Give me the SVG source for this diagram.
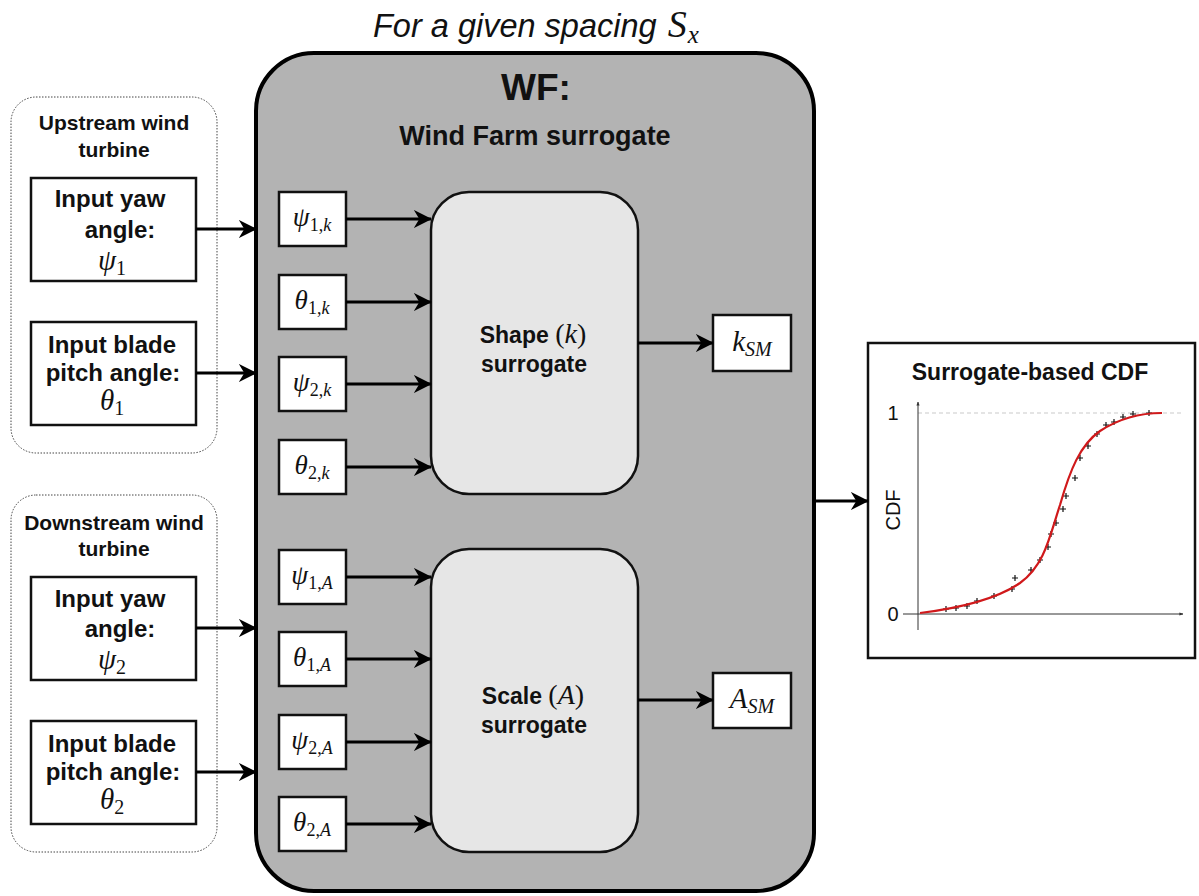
<svg xmlns="http://www.w3.org/2000/svg" width="1199" height="896" viewBox="0 0 1199 896">
  <style>
    .lbl { font-family: "Liberation Sans", Arial, sans-serif; font-weight: bold; fill: #111; }
    .math { font-family: "Liberation Serif", "DejaVu Serif", serif; font-style: italic; fill: #111; }
    .rm { font-style: normal; }
    .box { fill: #ffffff; stroke: #111; stroke-width: 2.5; }
    .group { fill: #ffffff; stroke: #444; stroke-width: 1; stroke-dasharray: 1.5 1.5; }
    .sur { fill: #e6e6e6; stroke: #111; stroke-width: 2.5; }
    .conn { stroke: #000; stroke-width: 3; fill: none; marker-end: url(#arrow); }
    .plot { font-family: "Liberation Sans", Arial, sans-serif; fill: #111; }
    .cross { stroke: #111; stroke-width: 1.2; }
  </style>
  <defs>
    <marker id="arrow" viewBox="0 0 10 10" refX="9.5" refY="5" markerWidth="6" markerHeight="6" orient="auto" markerUnits="strokeWidth">
      <path d="M0,0 L10,5 L0,10 L3,5 z" fill="#000"/>
    </marker>
    <marker id="tip" viewBox="0 0 10 10" refX="9" refY="5" markerWidth="4" markerHeight="4" orient="auto" markerUnits="strokeWidth">
      <path d="M0,1 L10,5 L0,9 z" fill="#333"/>
    </marker>
  </defs>

  <rect width="1199" height="896" fill="#ffffff"/>

  <!-- heading above the farm block -->
  <text x="373" y="37" style="font-family: 'Liberation Sans', Arial, sans-serif; font-style: italic; font-size: 32.5px; fill: #111;">For a given spacing <tspan class="math" font-size="38" dx="2">S</tspan><tspan class="math" font-size="25" dy="6" dx="1">x</tspan></text>

  <!-- wind farm surrogate block -->
  <g id="wf">
    <rect x="256" y="53" width="558" height="838" rx="58" ry="58" fill="#b3b3b3" stroke="#000" stroke-width="4"/>
    <text class="lbl" x="536" y="100" font-size="37" text-anchor="middle">WF:</text>
    <text class="lbl" x="535" y="145" font-size="27" text-anchor="middle">Wind Farm surrogate</text>
  </g>

  <!-- upstream turbine inputs -->
  <g id="upstream">
    <rect class="group" x="11" y="97" width="206" height="356" rx="25" ry="25"/>
    <text class="lbl" x="114" y="130" font-size="21" text-anchor="middle">Upstream wind</text>
    <text class="lbl" x="114" y="157" font-size="21" text-anchor="middle">turbine</text>
  </g>
  <g id="yaw1">
    <rect class="box" x="31" y="178" width="165" height="103"/>
    <text class="lbl" x="110" y="207" font-size="24" text-anchor="middle">Input yaw</text>
    <text class="lbl" x="120" y="238" font-size="24" text-anchor="middle">angle:</text>
    <text class="math" x="112" y="270" font-size="29" text-anchor="middle">ψ<tspan class="rm" font-size="20" dy="5">1</tspan></text>
  </g>
  <g id="pitch1">
    <rect class="box" x="31" y="322" width="165" height="103"/>
    <text class="lbl" x="112" y="353" font-size="24" text-anchor="middle">Input blade</text>
    <text class="lbl" x="113" y="381" font-size="24" text-anchor="middle">pitch angle:</text>
    <text class="math" x="112" y="410" font-size="29" text-anchor="middle">θ<tspan class="rm" font-size="20" dy="5">1</tspan></text>
  </g>

  <!-- downstream turbine inputs -->
  <g id="downstream">
    <rect class="group" x="11" y="495" width="206" height="357" rx="25" ry="25"/>
    <text class="lbl" x="114" y="530" font-size="21" text-anchor="middle">Downstream wind</text>
    <text class="lbl" x="114" y="556" font-size="21" text-anchor="middle">turbine</text>
  </g>
  <g id="yaw2">
    <rect class="box" x="31" y="577" width="165" height="103"/>
    <text class="lbl" x="110" y="607" font-size="24" text-anchor="middle">Input yaw</text>
    <text class="lbl" x="120" y="637" font-size="24" text-anchor="middle">angle:</text>
    <text class="math" x="112" y="669" font-size="29" text-anchor="middle">ψ<tspan class="rm" font-size="20" dy="5">2</tspan></text>
  </g>
  <g id="pitch2">
    <rect class="box" x="31" y="721" width="165" height="103"/>
    <text class="lbl" x="112" y="752" font-size="24" text-anchor="middle">Input blade</text>
    <text class="lbl" x="113" y="780" font-size="24" text-anchor="middle">pitch angle:</text>
    <text class="math" x="112" y="809" font-size="29" text-anchor="middle">θ<tspan class="rm" font-size="20" dy="5">2</tspan></text>
  </g>

  <!-- shape parameter inputs -->
  <g id="psi1k">
    <rect class="box" x="279" y="192" width="67" height="54"/>
    <text class="math" x="312" y="226" font-size="27" text-anchor="middle">ψ<tspan class="rm" font-size="18" dy="5">1,</tspan><tspan font-size="18">k</tspan></text>
  </g>
  <g id="theta1k">
    <rect class="box" x="279" y="275" width="67" height="54"/>
    <text class="math" x="312" y="309" font-size="27" text-anchor="middle">θ<tspan class="rm" font-size="18" dy="5">1,</tspan><tspan font-size="18">k</tspan></text>
  </g>
  <g id="psi2k">
    <rect class="box" x="279" y="357" width="67" height="54"/>
    <text class="math" x="312" y="391" font-size="27" text-anchor="middle">ψ<tspan class="rm" font-size="18" dy="5">2,</tspan><tspan font-size="18">k</tspan></text>
  </g>
  <g id="theta2k">
    <rect class="box" x="279" y="440" width="67" height="54"/>
    <text class="math" x="312" y="474" font-size="27" text-anchor="middle">θ<tspan class="rm" font-size="18" dy="5">2,</tspan><tspan font-size="18">k</tspan></text>
  </g>

  <!-- scale parameter inputs -->
  <g id="psi1A">
    <rect class="box" x="279" y="550" width="67" height="54"/>
    <text class="math" x="312" y="584" font-size="27" text-anchor="middle">ψ<tspan class="rm" font-size="18" dy="5">1,</tspan><tspan font-size="18">A</tspan></text>
  </g>
  <g id="theta1A">
    <rect class="box" x="279" y="632" width="67" height="54"/>
    <text class="math" x="312" y="666" font-size="27" text-anchor="middle">θ<tspan class="rm" font-size="18" dy="5">1,</tspan><tspan font-size="18">A</tspan></text>
  </g>
  <g id="psi2A">
    <rect class="box" x="279" y="715" width="67" height="54"/>
    <text class="math" x="312" y="749" font-size="27" text-anchor="middle">ψ<tspan class="rm" font-size="18" dy="5">2,</tspan><tspan font-size="18">A</tspan></text>
  </g>
  <g id="theta2A">
    <rect class="box" x="279" y="797" width="67" height="54"/>
    <text class="math" x="312" y="831" font-size="27" text-anchor="middle">θ<tspan class="rm" font-size="18" dy="5">2,</tspan><tspan font-size="18">A</tspan></text>
  </g>

  <!-- surrogate models -->
  <g id="shape">
    <rect class="sur" x="431" y="192" width="207" height="302" rx="38" ry="38"/>
    <text class="lbl" x="533" y="343" font-size="23" text-anchor="middle">Shape <tspan class="math rm" font-weight="normal" font-size="28">(</tspan><tspan class="math" font-weight="normal" font-size="28">k</tspan><tspan class="math rm" font-weight="normal" font-size="28">)</tspan></text>
    <text class="lbl" x="534" y="372" font-size="23" text-anchor="middle">surrogate</text>
  </g>
  <g id="scale">
    <rect class="sur" x="431" y="549" width="207" height="303" rx="38" ry="38"/>
    <text class="lbl" x="533" y="704" font-size="23" text-anchor="middle">Scale <tspan class="math rm" font-weight="normal" font-size="28">(</tspan><tspan class="math" font-weight="normal" font-size="28">A</tspan><tspan class="math rm" font-weight="normal" font-size="28">)</tspan></text>
    <text class="lbl" x="534" y="733" font-size="23" text-anchor="middle">surrogate</text>
  </g>

  <!-- surrogate outputs -->
  <g id="kSM">
    <rect class="box" x="713" y="315" width="78" height="56"/>
    <text class="math" x="752" y="351" font-size="29" text-anchor="middle">k<tspan font-size="20" dy="5">SM</tspan></text>
  </g>
  <g id="ASM">
    <rect class="box" x="713" y="673" width="78" height="55"/>
    <text class="math" x="752" y="708" font-size="29" text-anchor="middle">A<tspan font-size="20" dy="5">SM</tspan></text>
  </g>

  <!-- cumulative distribution plot -->
  <g id="cdf">
    <rect x="868" y="343" width="327" height="315" fill="#ffffff" stroke="#111" stroke-width="2.5"/>
    <text class="lbl" x="1030" y="380" font-size="23" text-anchor="middle">Surrogate-based CDF</text>
    <line x1="918" y1="413" x2="1182" y2="413" stroke="#bbb" stroke-width="0.8" stroke-dasharray="4 3"/>
    <line x1="918" y1="630" x2="918" y2="402" stroke="#333" stroke-width="1" marker-end="url(#tip)"/>
    <line x1="903" y1="614" x2="1183" y2="614" stroke="#333" stroke-width="1" marker-end="url(#tip)"/>
    <text class="plot" x="893" y="420" font-size="20" text-anchor="middle">1</text>
    <text class="plot" x="893" y="621" font-size="20" text-anchor="middle">0</text>
    <text class="plot" x="0" y="0" font-size="20" text-anchor="middle" transform="translate(900,510) rotate(-90)">CDF</text>
    <g class="cross">
      <path d="M943,609h6M946,606v6 M953,608h6M956,605v6 M964,606h6M967,603v6 M974,601h6M977,598v6 M991,596h6M994,593v6 M1009,589h6M1012,586v6 M1012,578h6M1015,575v6 M1028,570h6M1031,567v6 M1037,560h6M1040,557v6 M1045,547h6M1048,544v6 M1048,534h6M1051,531v6 M1053,523h6M1056,520v6 M1060,509h6M1063,506v6 M1063,496h6M1066,493v6 M1072,478h6M1075,475v6 M1077,458h6M1080,455v6 M1085,446h6M1088,443v6 M1094,434h6M1097,431v6 M1103,425h6M1106,422v6 M1111,422h6M1114,419v6 M1120,417h6M1123,414v6 M1130,414h6M1133,411v6 M1146,413h6M1149,410v6"/>
    </g>
    <path d="M920,613 C960,608 995,600 1020,583 C1045,565 1050,535 1060,505 C1070,470 1080,445 1100,431 C1120,418 1140,413 1162,413" fill="none" stroke="#d0191b" stroke-width="2.2"/>
  </g>

  <!-- connectors -->
  <g id="connectors">
    <line class="conn" x1="196" y1="229" x2="256" y2="229"/>
    <line class="conn" x1="196" y1="373" x2="256" y2="373"/>
    <line class="conn" x1="196" y1="628" x2="256" y2="628"/>
    <line class="conn" x1="196" y1="772" x2="256" y2="772"/>
    <line class="conn" x1="346" y1="219" x2="431" y2="219"/>
    <line class="conn" x1="346" y1="302" x2="431" y2="302"/>
    <line class="conn" x1="346" y1="384" x2="431" y2="384"/>
    <line class="conn" x1="346" y1="467" x2="431" y2="467"/>
    <line class="conn" x1="346" y1="577" x2="431" y2="577"/>
    <line class="conn" x1="346" y1="659" x2="431" y2="659"/>
    <line class="conn" x1="346" y1="742" x2="431" y2="742"/>
    <line class="conn" x1="346" y1="824" x2="431" y2="824"/>
    <line class="conn" x1="638" y1="343" x2="713" y2="343"/>
    <line class="conn" x1="638" y1="700" x2="713" y2="700"/>
    <line class="conn" x1="816" y1="501" x2="868" y2="501"/>
  </g>
</svg>
